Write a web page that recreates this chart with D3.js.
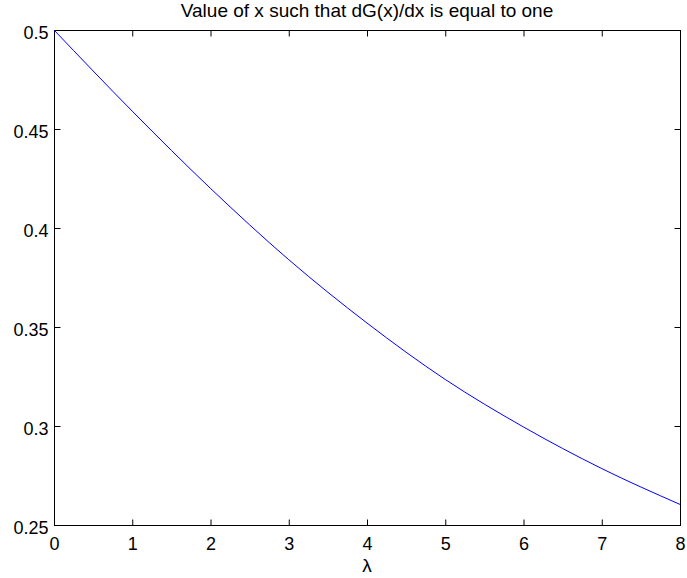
<!DOCTYPE html>
<html>
<head>
<meta charset="utf-8">
<script src="https://cdn.jsdelivr.net/npm/d3@7"></script>
<style>
  body { margin: 0; background: #fff; }
  text { font-family: "Liberation Sans", Arial, Helvetica, sans-serif; fill: #000; }
</style>
</head>
<body>
<div id="chart"></div>
<script>
// values
const lambdas = [0, 1, 2, 3, 4, 5, 6, 7, 8]
const xValues = [0.5, 0.459, 0.42, 0.384, 0.352, 0.3235, 0.2995, 0.2785, 0.2604]
const xTicks = [0, 1, 2, 3, 4, 5, 6, 7, 8]
const yTicks = [0.25, 0.3, 0.35, 0.4, 0.45, 0.5]
const titleText = "Value of x such that dG(x)/dx is equal to one"
const xLabelText = "λ"

const W = 687, H = 578
const m = { left: 54, right: 680, top: 30, bottom: 525 }

const svg = d3.select("#chart").append("svg").attr("width", W).attr("height", H)

const x = d3.scaleLinear().domain([0, 8]).range([m.left, m.right])
const y = d3.scaleLinear().domain([0.25, 0.5]).range([m.bottom, m.top])

const tickLen = 6

// box (half pixel so it stays crisp)
svg.append("rect")
    .attr("x", m.left + 0.5).attr("y", m.top + 0.5)
    .attr("width", m.right - m.left).attr("height", m.bottom - m.top)
    .attr("fill", "none").attr("stroke", "#000").attr("stroke-width", 1)

// axes on all four sides, ticks pointing inward
const xAxisB = d3.axisBottom(x).tickValues(xTicks).tickSize(-tickLen).tickFormat(d3.format("d"))
const xAxisT = d3.axisTop(x).tickValues(xTicks).tickSize(-tickLen).tickFormat("")
const yAxisL = d3.axisLeft(y).tickValues(yTicks).tickSize(-tickLen).tickPadding(6).tickFormat(d => String(d))
const yAxisR = d3.axisRight(y).tickValues(yTicks).tickSize(-tickLen).tickFormat("")

function styleAxis(g) {
    g.select(".domain").remove()
    g.selectAll(".tick line").attr("stroke", "#000")
    g.selectAll(".tick text").style("font-size", "18px").attr("fill", "#000")
}

svg.append("g").attr("transform", `translate(0,${m.bottom + 0.5})`).call(xAxisB).call(styleAxis)
    .selectAll(".tick text").attr("dy", null).attr("y", 24)
svg.append("g").attr("transform", `translate(0,${m.top + 0.5})`).call(xAxisT).call(styleAxis)
svg.append("g").attr("transform", `translate(${m.left + 0.5},0)`).call(yAxisL).call(styleAxis)
    .selectAll(".tick text").attr("dy", null).attr("y", 8.5)
svg.append("g").attr("transform", `translate(${m.right + 0.5},0)`).call(yAxisR).call(styleAxis)

// curve
const line = d3.line()
    .x((d, i) => x(lambdas[i]))
    .y(d => y(d))
    .curve(d3.curveMonotoneX)

svg.append("path")
    .datum(xValues)
    .attr("d", line)
    .attr("fill", "none")
    .attr("stroke", "#0000ff")
    .attr("stroke-width", 1)

// title and label
svg.append("text")
    .attr("x", (m.left + m.right) / 2).attr("y", 17)
    .attr("text-anchor", "middle")
    .style("font-size", "19px")
    .text(titleText)

svg.append("text")
    .attr("x", (m.left + m.right) / 2).attr("y", 572)
    .attr("text-anchor", "middle")
    .style("font-size", "19px")
    .text(xLabelText)
</script>
</body>
</html>
